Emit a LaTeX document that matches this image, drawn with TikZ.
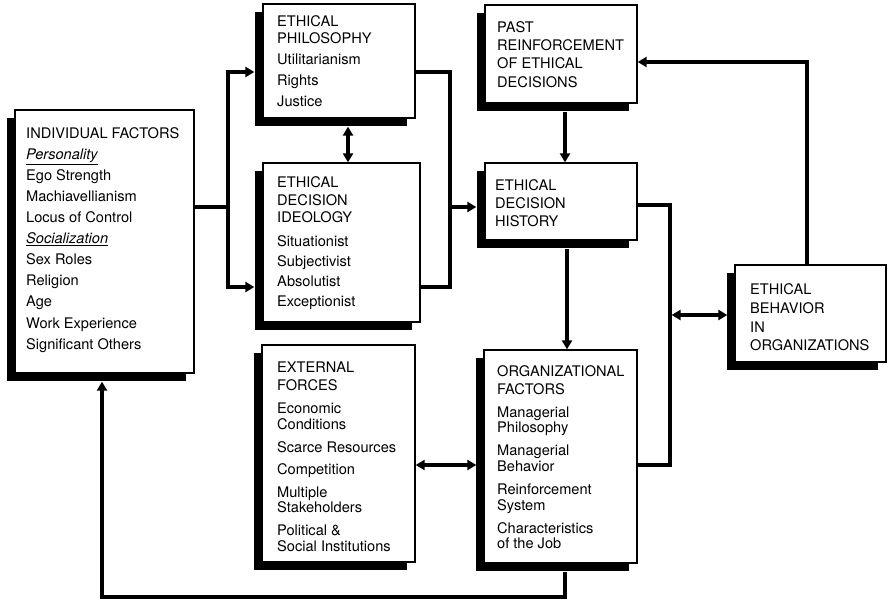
\documentclass[tikz,border=0pt]{standalone}
\usepackage{fontspec}
\setmainfont{TeX Gyre Heros}
\usetikzlibrary{arrows.meta,shadows}
\begin{document}
\begin{tikzpicture}[x=1pt,y=-1pt,
  box/.style={draw, line width=1.3pt, fill=white, inner sep=0pt,
    drop shadow={shadow xshift=-8pt, shadow yshift=-8pt, fill=black, opacity=1}},
  txt/.style={anchor=base west, inner sep=0pt, font=\fontsize{14.6}{16}\selectfont},
  conn/.style={line width=3.2pt},
  arr/.style={conn, -{Triangle[length=9pt,width=10pt]}},
  darr/.style={conn, {Triangle[length=9pt,width=10pt]}-{Triangle[length=9pt,width=10pt]}}]
\useasboundingbox (0,0) rectangle (888,601);

% boxes
\node[box, minimum width=179pt, minimum height=263pt] (ind)  at (104.5,241.5) {};
\node[box, minimum width=152pt, minimum height=114pt] (phil) at (339,61) {};
\node[box, minimum width=157pt, minimum height=159pt] (ideo) at (341.5,242.5) {};
\node[box, minimum width=152pt, minimum height=98pt]  (past) at (561,54) {};
\node[box, minimum width=152pt, minimum height=77pt]  (hist) at (561,201.5) {};
\node[box, minimum width=151pt, minimum height=97pt]  (beh)  at (810.5,313.5) {};
\node[box, minimum width=153pt, minimum height=217pt] (ext)  at (338.5,453.5) {};
\node[box, minimum width=153pt, minimum height=213pt] (org)  at (560.5,456.5) {};

% texts
\foreach \y/\t [count=\i] in {139/INDIVIDUAL FACTORS, 160/\underline{\textit{Personality}},
  181/Ego Strength, 202/Machiavellianism, 223/Locus of Control,
  244/\underline{\textit{Socialization}}, 265/Sex Roles, 286/Religion, 307/Age,
  328/Work Experience, 349/Significant Others}
  \node[txt] (indt\i) at (26,\y) {\t};
\foreach \y/\t [count=\i] in {27/ETHICAL, 44/PHILOSOPHY, 65/Utilitarianism, 86/Rights, 107/Justice}
  \node[txt] (philt\i) at (277,\y) {\t};
\foreach \y/\t [count=\i] in {188/ETHICAL, 206/DECISION, 223/IDEOLOGY, 247/Situationist,
  267/Subjectivist, 287/Absolutist, 307/Exceptionist}
  \node[txt] (ideot\i) at (277,\y) {\t};
\foreach \y/\t [count=\i] in {33/PAST, 51/REINFORCEMENT, 69/OF ETHICAL, 88/DECISIONS}
  \node[txt] (pastt\i) at (497,\y) {\t};
\foreach \y/\t [count=\i] in {190.5/ETHICAL, 208.5/DECISION, 227/HISTORY}
  \node[txt] (histt\i) at (495,\y) {\t};
\foreach \y/\t [count=\i] in {295/ETHICAL, 314/BEHAVIOR, 332/IN, 350/ORGANIZATIONS}
  \node[txt] (beht\i) at (750,\y) {\t};
\foreach \y/\t [count=\i] in {372/EXTERNAL, 390.5/FORCES, 413/Economic, 429/Conditions,
  452/Scarce Resources, 474/Competition, 497/Multiple, 512/Stakeholders,
  535/Political \&, 551/Social Institutions}
  \node[txt] (extt\i) at (277,\y) {\t};
\foreach \y/\t [count=\i] in {376/ORGANIZATIONAL, 394/FACTORS, 417/Managerial, 432/Philosophy,
  455.5/Managerial, 471.5/Behavior, 494/Reinforcement, 510/System,
  533/Characteristics, 548/of the Job}
  \node[txt] (orgt\i) at (497,\y) {\t};

% connectors
\coordinate (j1) at (228,207);
\draw[conn] (ind.east |- j1) -- (j1);
\draw[arr, shorten >=8pt] (j1) |- ([yshift=-11pt]phil.west);
\draw[arr, shorten >=8pt] (j1) |- ([yshift=-44.5pt]ideo.west);
\draw[darr] ([xshift=9pt,yshift=-8pt]phil.south) -- ([xshift=6.5pt]ideo.north);
\coordinate (j3) at (450,207);
\draw[conn] ([yshift=-11pt]phil.east) -| (j3) |- ([yshift=-44.5pt]ideo.east);
\draw[arr, shorten >=8pt] (j3) -- (hist.west |- j3);
\draw[arr] ([xshift=4pt,yshift=-8pt]past.south) -- ([xshift=4pt]hist.north);
\draw[arr] ([xshift=6pt,yshift=-8pt]hist.south) -- ([xshift=6.5pt]org.north);
\coordinate (j4) at (670,315);
\draw[conn] ([yshift=-3.5pt]hist.east) -| (j4) |- ([yshift=-8.5pt]org.east);
\draw[darr, shorten >=7pt, shorten <=1.6pt] (j4) -- (beh.west |- j4);
\draw[arr] ([xshift=-3.5pt]beh.north) |- ([yshift=-8pt]past.east);
\draw[darr, shorten >=7pt] ([yshift=-11.5pt]ext.east) -- ([yshift=-8.5pt]org.west);
\coordinate (j5) at (102,597);
\draw[arr, shorten >=8pt] ([xshift=4.5pt,yshift=-8pt]org.south) |- (j5) -- (ind.south -| j5);
\end{tikzpicture}
\end{document}
